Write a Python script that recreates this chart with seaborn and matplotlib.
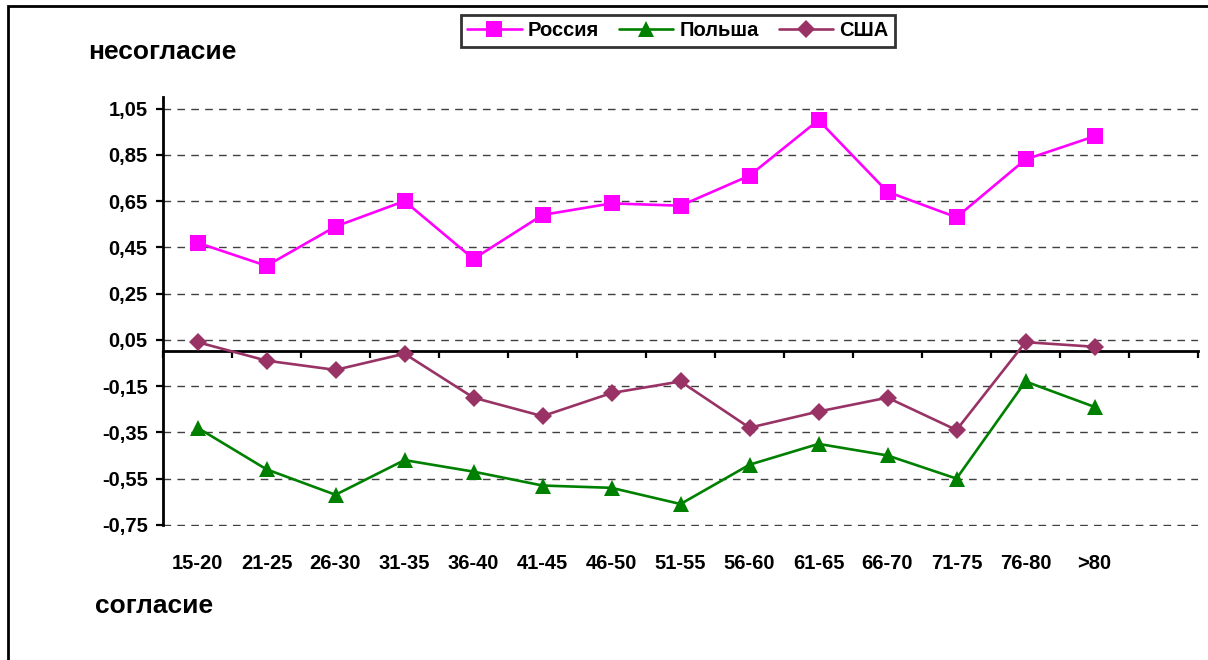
import matplotlib
matplotlib.use("Agg")
import matplotlib.pyplot as plt
from matplotlib.patches import Rectangle
import seaborn as sns
import pandas as pd

age_groups = ["15-20", "21-25", "26-30", "31-35", "36-40", "41-45", "46-50",
              "51-55", "56-60", "61-65", "66-70", "71-75", "76-80", ">80"]
russia = [0.47, 0.37, 0.54, 0.65, 0.40, 0.59, 0.64, 0.63, 0.76, 1.00, 0.69, 0.58, 0.83, 0.93]
poland = [-0.33, -0.51, -0.62, -0.47, -0.52, -0.58, -0.59, -0.66, -0.49, -0.40, -0.45, -0.55, -0.13, -0.24]
usa = [0.04, -0.04, -0.08, -0.01, -0.20, -0.28, -0.18, -0.13, -0.33, -0.26, -0.20, -0.34, 0.04, 0.02]
series_names = ["Россия", "Польша", "США"]
y_ticks = [-0.75, -0.55, -0.35, -0.15, 0.05, 0.25, 0.45, 0.65, 0.85, 1.05]
top_label = "несогласие"
bottom_label = "согласие"

sns.set_style("white")
plt.rcParams["font.family"] = ["Liberation Sans", "DejaVu Sans"]
plt.rcParams["font.weight"] = "bold"
plt.rcParams["text.color"] = "black"
plt.rcParams["axes.labelcolor"] = "black"
plt.rcParams["xtick.color"] = "black"
plt.rcParams["ytick.color"] = "black"

rows = []
for name, vals in zip(series_names, [russia, poland, usa]):
    for i, v in enumerate(vals):
        rows.append({"pos": i, "age": age_groups[i], "value": v, "country": name})
df = pd.DataFrame(rows)

colors = {"Россия": "#FF00FF", "Польша": "#008000", "США": "#993366"}
markers = {"Россия": "s", "Польша": "^", "США": "D"}
msizes = {"Россия": 11, "Польша": 11, "США": 9}

fig = plt.figure(figsize=(12.08, 6.60), dpi=100)
ymin, ymax = -0.755, 1.10
ax = fig.add_axes([163 / 1208, 1 - 526 / 660, (1198 - 163) / 1208, (526 - 97) / 660])

sns.lineplot(data=df, x="pos", y="value", hue="country", style="country",
             hue_order=series_names, style_order=series_names,
             palette=colors, markers=markers, dashes=False, linewidth=1.9,
             markeredgewidth=0, ax=ax, legend=False, zorder=3)

lines = ax.lines[:3]
for ln, name in zip(lines, series_names):
    ln.set_markersize(msizes[name])
    ln.set_markeredgecolor(colors[name])
    ln.set_markerfacecolor(colors[name])

ax.set_xlim(-0.5, 14.5)
ax.set_ylim(ymin, ymax)
ax.set_yticks(y_ticks)
ax.set_yticklabels([f"{v:.2f}".replace(".", ",") for v in y_ticks])
ax.set_xticks(range(len(age_groups)))
ax.set_xticklabels(age_groups)
ax.tick_params(axis="x", length=0, pad=20, labelsize=14.5, labelcolor="black")
ax.tick_params(axis="y", direction="out", length=5, width=1.6, pad=6, labelsize=14.5,
               left=True, color="black", labelcolor="black")
for lbl in ax.get_xticklabels() + ax.get_yticklabels():
    lbl.set_fontweight("bold")
ax.set_xlabel("")
ax.set_ylabel("")

ax.yaxis.grid(True, linestyle=(0, (5.5, 4.5)), color="#404040", linewidth=1.0)
ax.xaxis.grid(False)
ax.set_axisbelow(True)
for s in ["top", "right", "bottom"]:
    ax.spines[s].set_visible(False)
ax.spines["left"].set_linewidth(2.0)
ax.spines["left"].set_color("black")
ax.spines["left"].set_bounds(-0.75, ymax)

# category axis crossing at zero
zero_frac = (0 - ymin) / (ymax - ymin)
sec = ax.secondary_xaxis(zero_frac)
sec.set_xticks([i - 0.5 for i in range(len(age_groups) + 2)])
sec.set_xticklabels([])
sec.tick_params(direction="out", length=5, width=1.6, color="black")
sec.spines["bottom"].set_linewidth(2.0)
sec.spines["bottom"].set_color("black")

leg = fig.legend(lines, series_names, loc="center", bbox_to_anchor=(678 / 1208, 1 - 31 / 660),
                 ncol=3, frameon=True, fancybox=False, edgecolor="black",
                 handlelength=2.7, handletextpad=0.3, columnspacing=1.0,
                 borderpad=0.3, prop={"weight": "bold", "size": 14.5})
leg.get_frame().set_linewidth(2.0)
for t in leg.get_texts():
    t.set_color("black")

fig.text(88 / 1208, 1 - 52 / 660, top_label, ha="left", va="center", fontsize=19,
         fontweight="bold", color="black")
fig.text(95 / 1208, 1 - 606 / 660, bottom_label, ha="left", va="center", fontsize=19,
         fontweight="bold", color="black")

fig.add_artist(Rectangle((8 / 1208, -0.2), 1.2, 1.2 - 6 / 660, transform=fig.transFigure,
                         fill=False, edgecolor="black", linewidth=2.0, clip_on=False))

fig.savefig("out.png", dpi=100)
